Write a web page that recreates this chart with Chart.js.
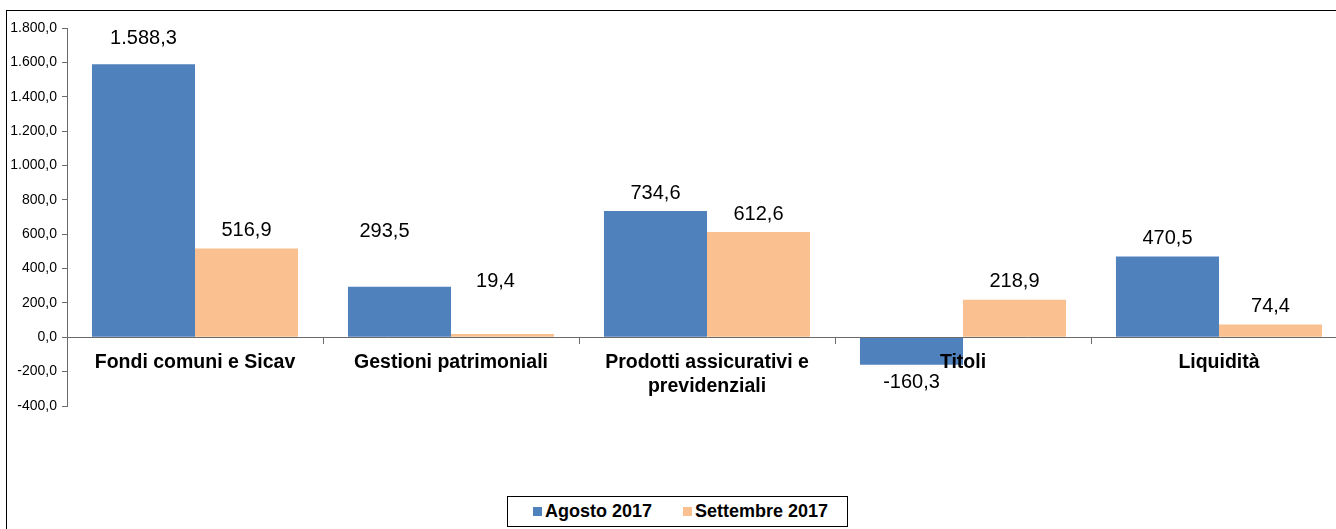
<!DOCTYPE html>
<html>
<head>
<meta charset="utf-8">
<script src="https://cdn.jsdelivr.net/npm/chart.js@4/dist/chart.umd.min.js"></script>
<style>
  html, body { margin: 0; padding: 0; background: #fff; overflow: hidden; width: 1336px; height: 529px; }
  #frame { position: absolute; left: 6px; top: 10px; width: 1400px; height: 600px; border: 1px solid #000; }
  #c { position: absolute; left: 0; top: 0; }
  #legend {
    position: absolute; left: 507px; top: 496px; width: 341px; height: 31px;
    border: 1px solid #000; background: #fff; box-sizing: border-box;
    display: flex; align-items: center; padding-left: 25px; white-space: nowrap;
    font: bold 18px "Liberation Sans", Arial, sans-serif; color: #000;
  }
  #legend span.item { display: flex; align-items: center; margin-right: 31px; }
  #legend i { display: inline-block; width: 9px; height: 9px; margin-right: 3px; }
</style>
</head>
<body>
<div id="frame"></div>
<canvas id="c" width="1360" height="529"></canvas>
<div id="legend"></div>
<script>
'use strict';

// --- Dati ---
const CATEGORIES = ['Fondi comuni e Sicav', 'Gestioni patrimoniali', ['Prodotti assicurativi e', 'previdenziali'], 'Titoli', 'Liquidità'];
const SERIES_NAMES = ['Agosto 2017', 'Settembre 2017'];
const AGOSTO = [1588.3, 293.5, 734.6, -160.3, 470.5];
const SETTEMBRE = [516.9, 19.4, 612.6, 218.9, 74.4];
const Y_MIN = -400, Y_MAX = 1800, Y_STEP = 200;

const COLORS = ['#4F81BD', '#FAC090'];
const FONT = '"Liberation Sans", Arial, sans-serif';

// numero in formato italiano: 1.588,3
function fmt(v, dec) {
  const neg = v < 0;
  const parts = Math.abs(v).toFixed(dec).split('.');
  const int = parts[0].replace(/\B(?=(\d{3})+(?!\d))/g, '.');
  return (neg ? '-' : '') + int + (dec ? ',' + parts[1] : '');
}

// etichette valori sopra/sotto le barre
const valueLabels = {
  id: 'valueLabels',
  afterDatasetsDraw(chart, args, opts) {
    const ctx = chart.ctx;
    ctx.save();
    ctx.font = opts.font;
    ctx.fillStyle = '#000';
    ctx.textAlign = 'center';
    ctx.textBaseline = 'middle';
    chart.data.datasets.forEach((ds, i) => {
      chart.getDatasetMeta(i).data.forEach((bar, j) => {
        const v = ds.data[j];
        const s = (opts.shift[i] && opts.shift[i][j]) || [0, 0];
        const y = v >= 0 ? bar.y - opts.gap : bar.y + opts.gap;
        ctx.fillText(fmt(v, 1), bar.x + s[0], y + s[1]);
      });
    });
    ctx.restore();
  }
};

const axisColor = '#6b6b6b';

new Chart(document.getElementById('c').getContext('2d'), {
  type: 'bar',
  data: {
    labels: CATEGORIES,
    datasets: [
      { label: SERIES_NAMES[0], data: AGOSTO, backgroundColor: COLORS[0], borderWidth: 0, categoryPercentage: 0.805, barPercentage: 1 },
      { label: SERIES_NAMES[1], data: SETTEMBRE, backgroundColor: COLORS[1], borderWidth: 0, categoryPercentage: 0.805, barPercentage: 1 },
    ],
  },
  options: {
    responsive: false,
    animation: false,
    layout: { padding: { left: 0, top: 28, right: 13, bottom: 123 } },
    plugins: {
      legend: { display: false },
      tooltip: { enabled: false },
      valueLabels: {
        font: '20px ' + FONT,
        gap: 18,
        shift: { 0: { 0: [0, -8], 1: [-15, -37] }, 1: { 1: [-7, -34] } },
      },
    },
    scales: {
      x: {
        position: { y: 0 },
        grid: { offset: true, drawOnChartArea: false, tickLength: 6, color: axisColor },
        border: { color: axisColor, z: 1 },
        ticks: { z: 1, color: '#000', padding: 8, maxRotation: 0, autoSkip: false, font: { family: FONT, size: 19.5, weight: 'bold', lineHeight: 1.2 } },
      },
      y: {
        min: Y_MIN,
        max: Y_MAX,
        afterFit(scale) { scale.width = 67; },
        grid: { drawOnChartArea: false, tickLength: 5, color: axisColor },
        border: { color: axisColor },
        ticks: { stepSize: Y_STEP, color: '#000', padding: 5, font: { family: FONT, size: 14 }, callback: v => fmt(v, 1) },
      },
    },
  },
  plugins: [valueLabels],
});

// legenda
document.getElementById('legend').innerHTML = SERIES_NAMES
  .map((n, i) => '<span class="item"><i style="background:' + COLORS[i] + '"></i>' + n + '</span>')
  .join('');
</script>
</body>
</html>
